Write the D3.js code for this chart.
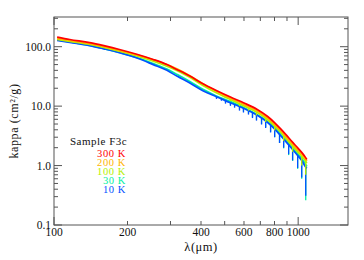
<!DOCTYPE html>
<html>
<head>
<meta charset="utf-8">
<script src="https://cdn.jsdelivr.net/npm/d3@7"></script>
<style>
  body { margin: 0; background: #fff; }
  svg text { font-family: "Liberation Serif", "Times New Roman", serif; fill: #111; }
</style>
</head>
<body>
<div id="chart"></div>
<script>
// wavelength grid (micron) used by every temperature curve
const wavelengths = [103, 116, 140, 160, 187, 220, 255, 290, 320, 360, 409, 460, 528, 600, 680, 750, 800, 850, 889, 950, 1000, 1040, 1068, 1085];

const kappa300 = [145, 132, 117, 104, 89, 74, 61, 50, 41, 32, 23.5, 18.5, 14.2, 11.3, 8.8, 6.7, 5.3, 4.1, 3.35, 2.45, 1.95, 1.62, 1.4, 1.27];
const kappa200 = [138, 127, 112, 100, 86, 72, 60, 50, 42, 32.5, 23.5, 18, 13.6, 10.7, 8.3, 6.3, 5.0, 3.85, 3.1, 2.28, 1.8, 1.52, 1.32, 1.2];
const kappa100 = [133, 123, 109, 97, 83, 69, 57, 47, 39.5, 30.5, 22, 17, 12.9, 10.1, 7.8, 5.9, 4.65, 3.6, 2.9, 2.12, 1.67, 1.4, 1.22, 1.1];
const kappa30 = [130, 120, 105, 93, 79, 65, 52, 42, 34, 26, 19, 15, 11.9, 9.4, 7.2, 5.5, 4.35, 3.3, 2.7, 1.96, 1.54, 1.28, 1.08, 0.97];
const kappa10 = [128, 118, 104, 92, 78.6, 64, 50, 40, 31.7, 24.5, 18, 14.5, 11.4, 9.1, 7.0, 5.3, 4.15, 3.15, 2.55, 1.85, 1.44, 1.18, 0.97, 0.9];

// noisy dips at long wavelength: [lambda, top, bottom]
const dips100 = [[528, 12.9, 12.1], [575, 10.9, 10.0], [626, 9.3, 8.4], [675, 7.9, 7.0], [736, 6.2, 5.4],
  [801, 4.6, 3.9], [872, 3.2, 2.6], [949, 2.15, 1.7], [1034, 1.43, 1.0], [1074, 1.16, 0.7]];
const dips30 = [[463, 14.8, 13.8], [485, 13.8, 12.9], [504, 12.9, 11.5], [528, 11.9, 10.5], [549, 11.1, 9.8],
  [575, 10.3, 8.8], [597, 9.6, 8.1], [626, 8.7, 7.5], [650, 8.0, 6.5], [675, 7.3, 5.9], [708, 6.5, 5.0],
  [736, 5.9, 4.4], [771, 5.1, 3.7], [801, 4.35, 3.0], [839, 3.5, 2.4], [872, 2.95, 1.95], [914, 2.4, 1.5],
  [949, 1.97, 1.2], [995, 1.57, 0.88], [1034, 1.3, 0.6], [1074, 1.02, 0.26]];
const dips10 = [[463, 14.3, 13.2], [485, 13.3, 12.3], [504, 12.4, 11.0], [528, 11.4, 10.1], [549, 10.8, 9.4],
  [575, 10.0, 8.4], [597, 9.2, 7.8], [626, 8.4, 7.2], [650, 7.8, 6.3], [675, 7.1, 5.7], [708, 6.3, 4.9],
  [736, 5.6, 4.3], [771, 4.9, 3.6], [801, 4.15, 3.0], [839, 3.35, 2.4], [872, 2.8, 2.0], [914, 2.3, 1.55],
  [949, 1.86, 1.22], [995, 1.48, 0.91], [1034, 1.22, 0.63], [1074, 0.94, 0.31]];

const temps = ["300 K", "200 K", "100 K", "30 K", "10 K"];
const colors = ["#ff0000", "#ffb400", "#b4f000", "#00f0a0", "#0050ff"];

const xTickLabels = [100, 200, 400, 600, 800, 1000];
const yTickLabels = [0.1, 1, 10, 100];

const W = 364, H = 260;
const mLeft = 54, mRight = 348, mTop = 17, mBottom = 225;

const svg = d3.select("#chart").append("svg")
  .attr("width", W)
  .attr("height", H);

const x = d3.scaleLog().domain([100, 1600]).range([mLeft, mRight]);
const y = d3.scaleLog().domain([0.1, 316]).range([mBottom, mTop]);

const series = [
  {name: temps[0], color: colors[0], values: kappa300, dips: []},
  {name: temps[1], color: colors[1], values: kappa200, dips: []},
  {name: temps[2], color: colors[2], values: kappa100, dips: dips100},
  {name: temps[3], color: colors[3], values: kappa30, dips: dips30},
  {name: temps[4], color: colors[4], values: kappa10, dips: dips10}
];

const line = d3.line()
  .curve(d3.curveMonotoneX)
  .x(d => x(d[0]))
  .y(d => y(d[1]));

const plot = svg.append("g");

// 30 K goes under 10 K so the cyan only shows at the dip tips, red ends on top
const drawOrder = [3, 4, 2, 1, 0];
drawOrder.forEach(i => {
  const s = series[i];
  const pts = wavelengths.map((w, j) => [w, s.values[j]]);
  plot.append("path")
    .attr("d", line(pts))
    .attr("fill", "none")
    .attr("stroke", s.color)
    .attr("stroke-width", 1.7);

  plot.selectAll(null)
    .data(s.dips)
    .enter().append("line")
    .attr("x1", d => x(d[0]))
    .attr("x2", d => x(d[0]))
    .attr("y1", d => y(d[1]))
    .attr("y2", d => y(d[2]))
    .attr("stroke", s.color)
    .attr("stroke-width", 1.3);
});

// frame and ticks
const axisColor = "#555";
svg.append("rect")
  .attr("x", mLeft).attr("y", mTop)
  .attr("width", mRight - mLeft).attr("height", mBottom - mTop)
  .attr("fill", "none").attr("stroke", axisColor).attr("stroke-width", 1);

const xTicks = d3.range(100, 1001, 100);
xTicks.forEach(t => {
  const len = (t === 100 || t === 1000) ? 8 : 4;
  svg.append("line").attr("x1", x(t)).attr("x2", x(t)).attr("y1", mBottom).attr("y2", mBottom - len).attr("stroke", axisColor);
  svg.append("line").attr("x1", x(t)).attr("x2", x(t)).attr("y1", mTop).attr("y2", mTop + len).attr("stroke", axisColor);
});

const yTicks = [];
[0.1, 1, 10, 100].forEach(dec => {
  for (let k = 1; k <= 9; k++) {
    if (dec * k <= 316) yTicks.push({v: dec * k, major: k === 1});
  }
});
yTicks.forEach(t => {
  const len = t.major ? 8 : 4;
  svg.append("line").attr("x1", mLeft).attr("x2", mLeft + len).attr("y1", y(t.v)).attr("y2", y(t.v)).attr("stroke", axisColor);
  svg.append("line").attr("x1", mRight).attr("x2", mRight - len).attr("y1", y(t.v)).attr("y2", y(t.v)).attr("stroke", axisColor);
});

svg.selectAll(".xlab")
  .data(xTickLabels)
  .enter().append("text")
  .attr("x", d => x(d))
  .attr("y", mBottom + 11)
  .attr("text-anchor", "middle")
  .attr("font-size", 11.5)
  .text(d => d);

svg.selectAll(".ylab")
  .data(yTickLabels)
  .enter().append("text")
  .attr("x", mLeft - 3)
  .attr("y", d => y(d) + 4)
  .attr("text-anchor", "end")
  .attr("font-size", 11.5)
  .text(d => d.toFixed(1));

svg.append("text")
  .attr("x", (mLeft + mRight) / 2)
  .attr("y", 251)
  .attr("text-anchor", "middle")
  .attr("font-size", 12.5)
  .attr("letter-spacing", 0.5)
  .text("λ(μm)");

svg.append("text")
  .attr("transform", "translate(18," + ((mTop + mBottom) / 2) + ") rotate(-90)")
  .attr("text-anchor", "middle")
  .attr("font-size", 12)
  .attr("letter-spacing", 0.6)
  .text("kappa (cm²/g)");

// legend: one text block, each temperature on its own tspan line
const legend = svg.append("text")
  .attr("x", 126)
  .attr("y", 145)
  .attr("text-anchor", "end")
  .attr("font-size", 10.5)
  .attr("letter-spacing", 0.6);

legend.append("tspan")
  .attr("x", 70)
  .attr("text-anchor", "start")
  .attr("font-size", 11)
  .attr("letter-spacing", 0.5)
  .text("Sample F3c");

legend.selectAll(".leg")
  .data(series)
  .enter().append("tspan")
  .attr("x", 126)
  .attr("dy", (d, i) => i === 0 ? 12 : 9)
  .attr("text-anchor", "end")
  .style("fill", d => d.color)
  .text(d => d.name);
</script>
</body>
</html>
